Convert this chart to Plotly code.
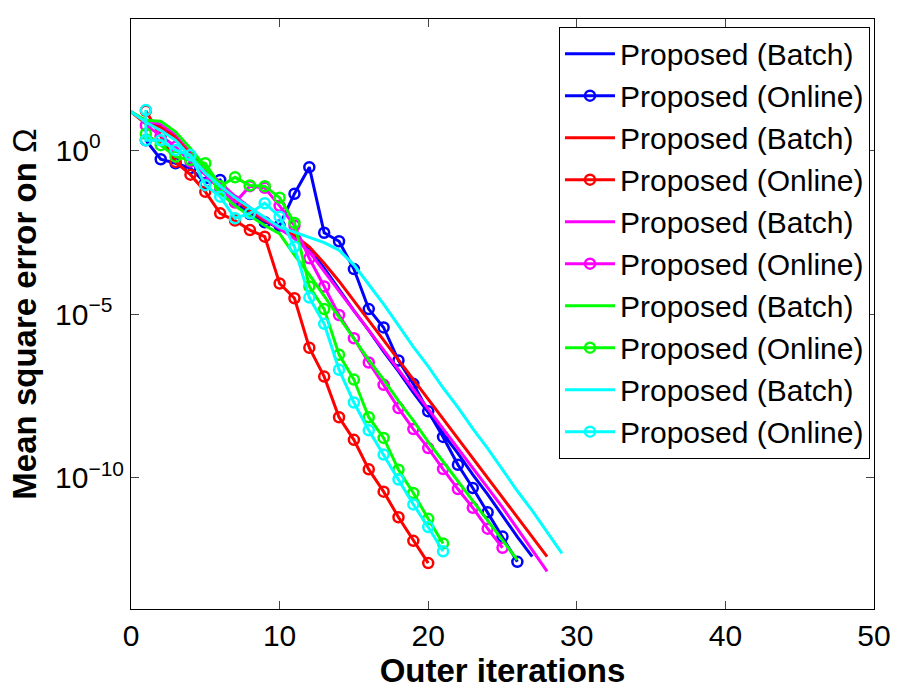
import plotly.graph_objects as go

# values, stored as log10 of the error
blue_batch_log = [1.17, 0.85, 0.75, 0.45, -0.05, -0.6, -1.05, -1.45, -1.8, -2.15, -2.4,
                  -2.65, -3.0, -3.6, -4.25, -4.9, -5.5, -6.15, -6.75, -7.4, -8.0,
                  -8.65, -9.25, -9.9, -10.5, -11.15, -11.8, -12.4]
blue_online_log = [0.3, -0.28, -0.4, -0.55, -1.0, -0.91, -1.57, -1.95, -2.2, -2.3,
                   -1.33, -0.52, -2.52, -2.78, -3.63, -4.85, -5.41, -6.42, -7.13, -7.97,
                   -8.75, -9.6, -10.31, -11.05, -11.79, -12.56]
red_batch_log = [1.17, 0.8, 0.7, 0.4, -0.1, -0.65, -1.1, -1.5, -1.85, -2.15, -2.35,
                 -2.6, -2.95, -3.45, -4.0, -4.6, -5.2, -5.8, -6.4, -7.0, -7.6,
                 -8.2, -8.8, -9.4, -10.0, -10.6, -11.2, -11.8, -12.4]
red_online_log = [1.2, 0.41, -0.36, -0.75, -1.27, -1.93, -2.15, -2.44, -2.64, -4.07,
                  -4.52, -6.03, -6.91, -8.15, -8.84, -9.74, -10.42, -11.2, -11.92, -12.6]
magenta_batch_log = [1.17, 0.88, 0.8, 0.5, 0.0, -0.55, -1.0, -1.4, -1.75, -2.1, -2.4,
                     -2.7, -3.1, -3.7, -4.3, -4.9, -5.5, -6.1, -6.7, -7.3, -7.9,
                     -8.5, -9.1, -9.7, -10.3, -10.9, -11.55, -12.2, -12.85]
magenta_online_log = [0.75, 0.45, 0.1, -0.35, -0.75, -1.2, -1.6, -1.1, -1.15, -1.7,
                      -2.3, -3.3, -4.16, -5.03, -5.74, -6.48, -7.16, -7.87, -8.51, -9.09,
                      -9.73, -10.34, -10.91, -11.55, -12.13]
green_batch_log = [1.17, 0.91, 0.88, 0.56, 0.05, -0.5, -1.3, -1.7, -2.0, -2.3, -2.55,
                   -3.2, -3.8, -4.45, -5.1, -5.75, -6.4, -7.0, -7.65, -8.25, -8.9,
                   -9.5, -10.1, -10.7, -11.3, -11.9, -12.5]
green_online_log = [0.5, 0.15, -0.2, -0.3, -0.4, -1.1, -0.83, -1.08, -1.1, -1.45,
                    -2.22, -4.16, -4.85, -6.24, -7.0, -8.15, -8.78, -9.75, -10.46, -11.25,
                    -12.0]
cyan_batch_log = [1.17, 0.85, 0.6, 0.3, -0.2, -0.7, -1.1, -1.45, -1.75, -2.05, -2.35,
                  -2.5, -2.65, -2.82, -3.05, -3.5, -4.1, -4.7, -5.35, -6.0, -6.6,
                  -7.25, -7.85, -8.5, -9.1, -9.75, -10.4, -11.0, -11.65, -12.3]
cyan_online_x = [1, 1, 2, 3, 4, 5, 6, 7, 8, 9, 10, 11, 12, 13, 14, 15, 16, 17, 18, 19, 20, 21]
cyan_online_log = [1.22, 0.3, 0.3, 0.0, -0.15, -1.07, -1.42, -2.08, -1.93, -1.62, -2.03,
                   -2.95, -4.5, -5.3, -6.7, -7.7, -8.55, -9.29, -10.05, -10.81, -11.5, -12.24]

x_ticks = [0, 10, 20, 30, 40, 50]
y_tickvals = [1e-10, 1e-5, 1]
# trailing no-break spaces keep the "10" bases lined up on the left, like the original
y_ticktext = ['10<sup>\u221210</sup>',
              '10<sup>\u22125\u00a0\u00a0</sup>',
              '10<sup>0\u00a0\u00a0\u00a0\u00a0</sup>']

series = [
    ('#0000FF', blue_batch_log, blue_online_log, None),
    ('#FF0000', red_batch_log, red_online_log, None),
    ('#FF00FF', magenta_batch_log, magenta_online_log, None),
    ('#00FF00', green_batch_log, green_online_log, None),
    ('#00FFFF', cyan_batch_log, cyan_online_log, cyan_online_x),
]

fig = go.Figure()
for color, batch, online, online_x in series:
    fig.add_trace(go.Scatter(
        x=list(range(len(batch))), y=[10.0 ** v for v in batch],
        mode='lines', name='Proposed (Batch)',
        line=dict(color=color, width=3)))
    if online_x is None:
        online_x = list(range(1, len(online) + 1))
    fig.add_trace(go.Scatter(
        x=online_x, y=[10.0 ** v for v in online],
        mode='lines+markers', name='Proposed (Online)',
        line=dict(color=color, width=3),
        marker=dict(symbol='circle-open', size=10, color=color, line=dict(width=2.5))))

fig.update_layout(
    width=900, height=689,
    margin=dict(l=131, r=26, t=19, b=80),
    paper_bgcolor='white', plot_bgcolor='white',
    font=dict(family='Liberation Sans, Arial, sans-serif', color='black', size=30),
    legend=dict(x=0.9946, y=0.987, xanchor='right', yanchor='top',
                bordercolor='black', borderwidth=1, bgcolor='white',
                font=dict(size=30), tracegroupgap=0, itemwidth=50),
)
fig.update_xaxes(
    range=[0, 50], tickvals=x_ticks, ticks='inside', ticklen=8, automargin=False,
    showline=True, mirror='ticks', linecolor='black', linewidth=1,
    showgrid=False, zeroline=False,
    title=dict(text='<b>Outer iterations</b>', font=dict(size=33), standoff=0))
fig.update_yaxes(
    type='log', range=[-14, 4], tickvals=y_tickvals, ticktext=y_ticktext,
    ticks='inside', ticklen=8, automargin=False,
    showline=True, mirror='ticks', linecolor='black', linewidth=1,
    showgrid=False, zeroline=False,
    title=dict(text='<b>Mean square error on </b>\u03a9', font=dict(size=33), standoff=8))

# page body has a default 8px margin, drop it so the figure sits at the corner
fig.write_html('out.html', config={'displayModeBar': False},
               post_script="document.body.style.margin='0';")
